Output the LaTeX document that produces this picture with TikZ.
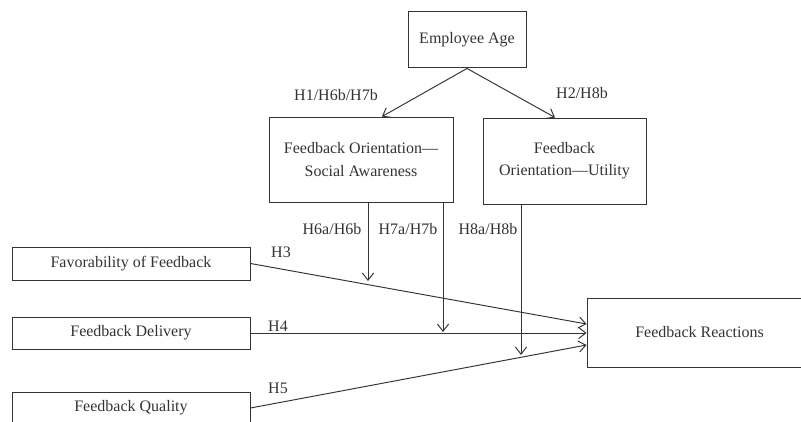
\documentclass[tikz,border=0pt]{standalone}
\usepackage{fontspec}
\setmainfont{Liberation Serif}
\usepackage{tikz}
\usetikzlibrary{
	arrows.meta,
	positioning,
	calc
}

\begin{document}
\begin{tikzpicture}[
			x=0.625pt, y=-0.625pt,
			font=\fontsize{10}{13.8}\selectfont,
			text=black!80,
			konstrukt/.style={draw=black!80, line width=0.6pt, inner sep=0pt, align=center},
			hyp/.style={inner sep=0pt, text=black!80},
			>={Straight Barb[length=4.5pt, width=7pt]},
			pfeil/.style={->, line width=0.6pt, draw=black!80}
		]
		\clip (0,0) rectangle (801,421);

		% Konstrukte
		\node[konstrukt, minimum width=73.75pt, minimum height=35.6pt] (age) at (467,39.5) {Employee Age};
		\node[konstrukt, minimum width=115pt, minimum height=53.1pt] (sa) at (361,159.5) {Feedback Orientation—\\Social Awareness};
		\node[konstrukt, minimum width=101.9pt, minimum height=53.75pt] (util) at (564.5,161) {Feedback\\Orientation—Utility};
		\node[konstrukt, minimum width=148.75pt, minimum height=20.6pt] (fav) at (131,263.5) {Favorability of Feedback};
		\node[konstrukt, minimum width=148.75pt, minimum height=20pt] (deliv) at (131,333) {Feedback Delivery};
		\node[konstrukt, minimum width=148.75pt, minimum height=20pt] (qual) at (131,408) {Feedback Quality};
		\node[konstrukt, minimum width=140.6pt, minimum height=43.1pt] (react) at (699.5,332.5) {Feedback Reactions};

		% Moderatorpunkte
		\coordinate (m6) at (368,281);
		\coordinate (m7) at (443,332);
		\coordinate (m8) at (521,355);

		\draw[pfeil] (age.south) -- ($(sa.north)+(21,0)$);
		\draw[pfeil] (age.south) -- ($(util.north)+(-9.5,0)$);
		\draw[pfeil] (fav.east) -- ($(react.west)+(0,-8.5)$);
		\draw[pfeil] (deliv.east) -- (deliv.east -| react.west);
		\draw[pfeil] (qual.east) -- ($(react.west)+(0,12.5)$);
		\draw[pfeil] (sa.south -| m6) -- (m6);
		\draw[pfeil] (sa.south -| m7) -- (m7);
		\draw[pfeil] (util.south -| m8) -- (m8);

		% Hypothesen
		\node[hyp] (h1) at (336,95) {H1/H6b/H7b};
		\node[hyp] (h2) at (582,93) {H2/H8b};
		\node[hyp] (h6) at (332,229) {H6a/H6b};
		\node[hyp] (h7) at (408,229) {H7a/H7b};
		\node[hyp] (h8) at (488,229) {H8a/H8b};
		\node[hyp] (h3) at (281,252) {H3};
		\node[hyp] (h4) at (278,326) {H4};
		\node[hyp] (h5) at (278,388) {H5};
	\end{tikzpicture}
\end{document}
